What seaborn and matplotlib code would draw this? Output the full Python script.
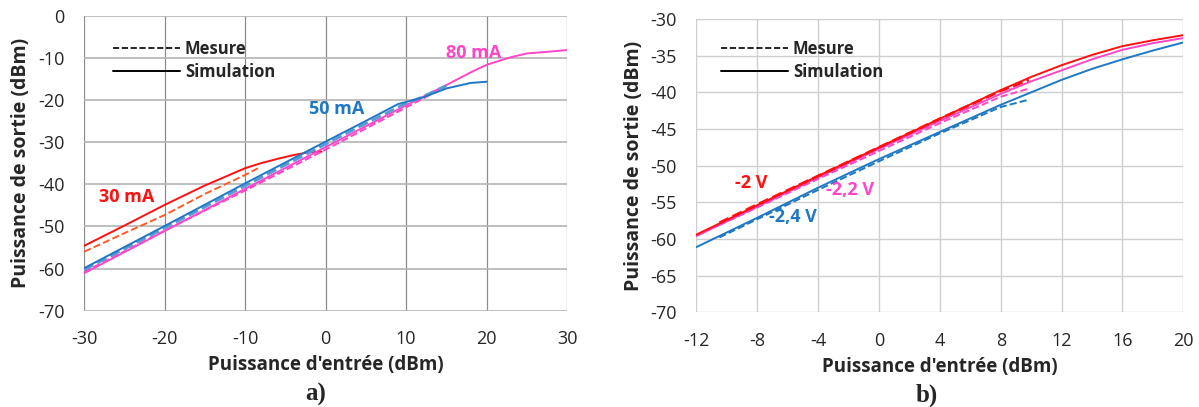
import numpy as np
import pandas as pd
import seaborn as sns
import matplotlib.pyplot as plt
from matplotlib.lines import Line2D

# ---- data ----
# a) courant de polarisation
x_30_sim = [-30, -25, -20, -15, -10, -8, -6, -4, -2, -0.5]
y_30_sim = [-54.6, -49.8, -44.9, -40.3, -36.2, -35.0, -34.0, -33.1, -32.4, -32.3]
x_30_mes = [-30, -25, -20, -15, -10, -8.4]
y_30_mes = [-56.0, -51.6, -47.3, -42.3, -37.8, -36.2]

x_50_sim = [-30, -20, -10, 0, 5, 9, 12, 15, 18, 20]
y_50_sim = [-59.9, -49.9, -39.8, -29.9, -25.0, -21.0, -19.5, -17.3, -16.0, -15.7]
x_50_mes = [-30, -20, -10, 0, 5, 10, 12, 15]
y_50_mes = [-60.3, -50.4, -40.4, -30.5, -25.6, -20.8, -19.3, -16.6]

x_80_sim = [-30, -20, -10, 0, 10, 15, 18, 20, 23, 25, 27, 30]
y_80_sim = [-61.1, -51.1, -41.1, -31.2, -21.3, -16.5, -13.5, -11.7, -9.9, -9.0, -8.7, -8.2]
x_80_mes = [-30, -20, -10, 0, 10, 15]
y_80_mes = [-60.8, -51.0, -41.5, -31.8, -21.8, -16.8]

# b) tension de polarisation
x_b_sim = [-12, -8, -4, 0, 4, 8, 10, 12, 14, 16, 18, 20]
y_2v_sim = [-59.4, -55.4, -51.4, -47.5, -43.6, -39.7, -37.9, -36.3, -34.9, -33.7, -32.9, -32.2]
y_22v_sim = [-59.6, -55.6, -51.6, -47.7, -43.9, -40.2, -38.5, -37.0, -35.5, -34.2, -33.3, -32.6]
y_24v_sim = [-61.1, -57.1, -53.0, -49.1, -45.4, -41.7, -40.0, -38.3, -36.8, -35.5, -34.3, -33.2]
x_b_mes = [-10.5, -8, -4, 0, 4, 8, 9.85]
y_2v_mes = [-57.8, -55.3, -51.4, -47.5, -43.6, -39.8, -38.3]
y_22v_mes = [-58.1, -55.7, -51.8, -48.0, -44.2, -40.6, -39.5]
y_24v_mes = [-59.8, -57.3, -53.3, -49.4, -45.6, -42.0, -41.0]

RED = '#ff1010'
ORANGE = '#ff5a28'
BLUE = '#1f78c4'
LBLUE = '#5b9bd5'
PINK = '#ff45c8'

sns.set_style("white")
plt.rcParams['font.family'] = ['Open Sans', 'DejaVu Sans']
plt.rcParams['axes.unicode_minus'] = False

fig = plt.figure(figsize=(11.99, 4.07), dpi=100)
ax1 = fig.add_axes([0.0703, 0.2366, 0.4026, 0.7253])
ax2 = fig.add_axes([0.5809, 0.2327, 0.4060, 0.7206])


def draw(ax, x, y, color, dashed=False, lw=1.4):
    sns.lineplot(x=x, y=y, ax=ax, color=color, linewidth=lw,
                 linestyle='--' if dashed else '-', errorbar=None)


# panel a
draw(ax1, x_30_mes, y_30_mes, ORANGE, True)
draw(ax1, x_30_sim, y_30_sim, RED)
draw(ax1, x_80_mes, y_80_mes, PINK, True)
draw(ax1, x_80_sim, y_80_sim, PINK)
draw(ax1, x_50_mes, y_50_mes, LBLUE, True, 2.0)
draw(ax1, x_50_sim, y_50_sim, BLUE)

ax1.set_xlim(-30, 30)
ax1.set_ylim(-70, 0)
ax1.set_xticks(np.arange(-30, 31, 10))
ax1.set_yticks(np.arange(-70, 1, 10))
ax1.grid(axis='x', color='#8c8c8c', linewidth=0.9)
ax1.grid(axis='y', color='#b4b4b4', linewidth=1.2)

ax1.text(-24.8, -43.0, '30 mA', color=RED, fontsize=13, fontweight='bold',
         ha='center', va='center')
ax1.text(1.4, -22.2, '50 mA', color=BLUE, fontsize=13, fontweight='bold',
         ha='center', va='center')
ax1.text(18.4, -8.8, '80 mA', color=PINK, fontsize=13, fontweight='bold',
         ha='center', va='center')

# panel b
draw(ax2, x_b_sim, y_24v_sim, BLUE)
draw(ax2, x_b_mes, y_24v_mes, BLUE, True)
draw(ax2, x_b_sim, y_22v_sim, PINK)
draw(ax2, x_b_mes, y_22v_mes, PINK, True)
draw(ax2, x_b_sim, y_2v_sim, RED)
draw(ax2, x_b_mes, y_2v_mes, RED, True, 2.0)

ax2.set_xlim(-12, 20)
ax2.set_ylim(-70, -30)
ax2.set_xticks(np.arange(-12, 21, 4))
ax2.set_yticks(np.arange(-70, -29, 5))
ax2.grid(True, color='#cfcfcf', linewidth=1.0)

ax2.text(-8.4, -52.4, '-2 V', color=RED, fontsize=13, fontweight='bold',
         ha='center', va='center')
ax2.text(-1.9, -53.3, '-2,2 V', color=PINK, fontsize=13, fontweight='bold',
         ha='center', va='center')
ax2.text(-5.65, -57.0, '-2,4 V', color=BLUE, fontsize=13, fontweight='bold',
         ha='center', va='center')

for ax, anchor in ((ax1, (0.046, 0.941)), (ax2, (0.037, 0.952))):
    ax.set_xlabel("Puissance d'entrée (dBm)", fontsize=13.5, fontweight='bold', labelpad=5)
    ax.set_ylabel("Puissance de sortie (dBm)", fontsize=14, fontweight='bold', labelpad=5)
    ax.tick_params(labelsize=13, length=0, pad=14)
    for s in ax.spines.values():
        s.set_visible(False)
    handles = [Line2D([], [], color='black', linestyle='--', linewidth=1.2),
               Line2D([], [], color='black', linestyle='-', linewidth=1.4)]
    ax.legend(handles, ['Mesure', 'Simulation'], loc='upper left',
              bbox_to_anchor=anchor, borderaxespad=0, frameon=False,
              handlelength=4.0, handletextpad=0.3, labelspacing=0.3,
              prop={'weight': 'bold', 'size': 12})

fig.text(0.263, 0.03, 'a)', fontsize=18, fontweight='bold',
         family='Liberation Serif', ha='center', va='center')
fig.text(0.773, 0.03, 'b)', fontsize=18, fontweight='bold',
         family='Liberation Serif', ha='center', va='center')

fig.savefig('out.png', dpi=100)
